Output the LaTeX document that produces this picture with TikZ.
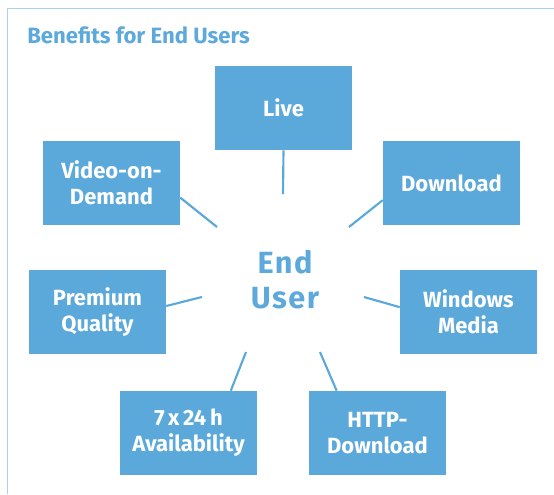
\documentclass[tikz,border=0pt]{standalone}
\usepackage{fontspec}
\setmainfont{Fira Sans}
\newfontfamily\userfont[LetterSpace=5]{Fira Sans}
\definecolor{boxblue}{HTML}{5BA8DB}
\definecolor{frameblue}{HTML}{A8D1EE}
\definecolor{titleblue}{HTML}{5DA9DC}
\begin{document}
\begin{tikzpicture}[x=0.75pt,y=-0.75pt,
  benefit/.style={fill=boxblue, draw=none, minimum width=102.75pt, minimum height=63pt,
    inner sep=0pt, align=center, text=white, font=\fontsize{16.5}{19.5}\selectfont\bfseries},
  conn/.style={draw=boxblue, line width=1.6pt},
  frame/.style={draw=frameblue, line width=1pt}]
\useasboundingbox (0,0) rectangle (554,494);
\draw[frame] (7.5,494) -- (7.5,8.5) -- (554,8.5);
\node[anchor=base west, text=titleblue, font=\fontsize{16.6}{20}\selectfont\bfseries, inner sep=0pt] (title) at (27,43) {Benefits for End Users};
\node[text=titleblue, align=center, inner sep=0pt, font=\fontsize{23}{26}\userfont\bfseries] (user) at (285,279.5) {End\\User};
\node[benefit] (live) at (283.5,108) {Live};
\node[benefit] (video) at (111.5,183) {Video-on-\\Demand};
\node[benefit] (download) at (451.5,183) {Download};
\node[benefit] (premium) at (97.5,312) {Premium\\Quality};
\node[benefit] (windows) at (468.5,312) {Windows\\Media};
\node[benefit] (avail) at (188.5,433) {7\,x\,24\,h\\Availability};
\node[benefit] (http) at (377.5,433) {HTTP-\\Download};
\coordinate (eLive) at (283,194);
\coordinate (eDownload) at (349,227);
\coordinate (eVideo) at (217,227);
\coordinate (ePremium) at (202,297);
\coordinate (eWindows) at (364,297);
\coordinate (eAvail) at (246,352);
\coordinate (eHttp) at (320,352);
\draw[conn] (live.south) -- (eLive);
\draw[conn] (download.194) -- (eDownload);
\draw[conn] (video.-12) -- (eVideo);
\draw[conn] (premium.5) -- (ePremium);
\draw[conn] (windows.176) -- (eWindows);
\draw[conn] (avail.45) -- (eAvail);
\draw[conn] (http.134) -- (eHttp);
\end{tikzpicture}
\end{document}
